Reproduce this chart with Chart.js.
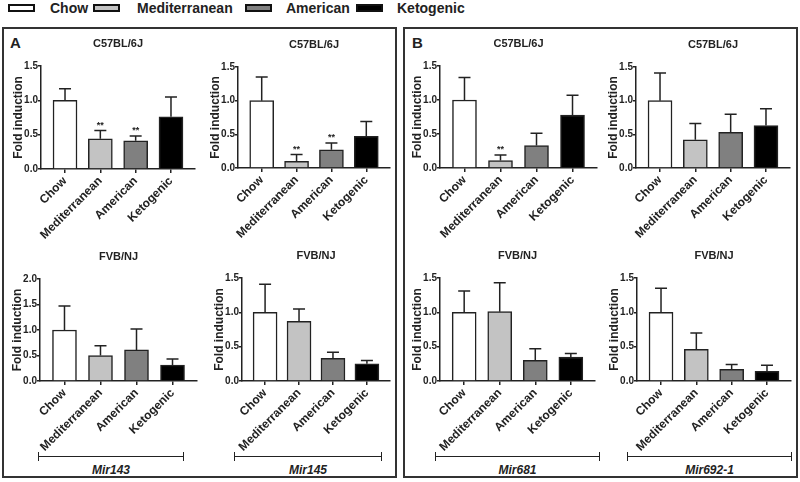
<!DOCTYPE html>
<html lang="en">

<head>
    <meta charset="UTF-8">
    <title>Fold induction by diet</title>
    <style>
        body {
            margin: 0;
            background: #ffffff;
            font-family: 'Liberation Sans', Arial, sans-serif;
            color: #222;
        }

        #page {
            position: relative;
            width: 800px;
            height: 482px;
            overflow: hidden;
        }

        .panel {
            position: absolute;
            top: 27px;
            height: 451px;
            border: 2px solid #333;
            box-sizing: border-box;
        }

        .letter {
            position: absolute;
            top: 34px;
            font-size: 15px;
            font-weight: bold;
        }

        .swatch {
            position: absolute;
            top: 4px;
            width: 27px;
            height: 8px;
            border: 2px solid #111;
            box-sizing: border-box;
        }

        .legend-text {
            position: absolute;
            top: 0px;
            font-size: 14px;
            font-weight: bold;
            line-height: 17px;
        }

        canvas {
            position: absolute;
        }

        .bracket {
            position: absolute;
            height: 9px;
            border-left: 1.5px solid #222;
            border-right: 1.5px solid #222;
            box-sizing: border-box;
        }

        .bracket::after {
            content: '';
            position: absolute;
            left: 0;
            right: 0;
            top: 3.5px;
            border-top: 1.5px solid #222;
        }

        .gene {
            position: absolute;
            font-size: 12px;
            font-weight: bold;
            font-style: italic;
            text-align: center;
        }
    </style>
    <script src="https://cdn.jsdelivr.net/npm/chart.js"></script>
</head>

<body>
    <div id="page">
        <div class="panel" style="left:2px; width:395px;"></div>
        <div class="panel" style="left:403px; width:395px;"></div>
        <div class="letter" style="left:10px;">A</div>
        <div class="letter" style="left:412px;">B</div>
    </div>

    <script>
        // Diet groups and bar fills
        const diets = ['Chow', 'Mediterranean', 'American', 'Ketogenic'];
        const dietColors = ['#ffffff', '#c3c3c3', '#808080', '#000000'];

        // Fold induction (mean) and upper error (SEM)
        const mir143C57 = [1.00, 0.44, 0.41, 0.76];
        const mir143C57Err = [0.17, 0.12, 0.07, 0.29];
        const mir143C57Sig = ['', '**', '**', ''];

        const mir145C57 = [1.00, 0.10, 0.27, 0.47];
        const mir145C57Err = [0.35, 0.10, 0.10, 0.22];
        const mir145C57Sig = ['', '**', '**', ''];

        const mir143FVB = [1.00, 0.50, 0.61, 0.31];
        const mir143FVBErr = [0.47, 0.19, 0.41, 0.12];

        const mir145FVB = [1.00, 0.87, 0.33, 0.25];
        const mir145FVBErr = [0.41, 0.18, 0.09, 0.05];

        const mir681C57 = [1.00, 0.11, 0.33, 0.78];
        const mir681C57Err = [0.33, 0.08, 0.18, 0.29];
        const mir681C57Sig = ['', '**', '', ''];

        const mir692C57 = [1.00, 0.42, 0.53, 0.63];
        const mir692C57Err = [0.41, 0.24, 0.27, 0.25];

        const mir681FVB = [1.00, 1.01, 0.30, 0.35];
        const mir681FVBErr = [0.31, 0.42, 0.17, 0.05];

        const mir692FVB = [1.00, 0.46, 0.17, 0.14];
        const mir692FVBErr = [0.35, 0.24, 0.07, 0.09];

        const yTicks15 = [0, 0.5, 1.0, 1.5];
        const yTicks20 = [0, 0.5, 1.0, 1.5, 2.0];

        const strains = ['C57BL/6J', 'FVB/NJ'];
        const genes = ['Mir143', 'Mir145', 'Mir681', 'Mir692-1'];

        // plot rectangle of every small chart (page pixels)
        const panels = [
            { title: strains[0], values: mir143C57, errors: mir143C57Err, sig: mir143C57Sig, ticks: yTicks15, area: [41, 66, 195, 169] },
            { title: strains[0], values: mir145C57, errors: mir145C57Err, sig: mir145C57Sig, ticks: yTicks15, area: [238, 67, 390, 168] },
            { title: strains[0], values: mir681C57, errors: mir681C57Err, sig: mir681C57Sig, ticks: yTicks15, area: [440, 66, 597, 168] },
            { title: strains[0], values: mir692C57, errors: mir692C57Err, sig: [], ticks: yTicks15, area: [636, 67, 790, 168] },
            { title: strains[1], values: mir143FVB, errors: mir143FVBErr, sig: [], ticks: yTicks20, area: [40, 279, 197, 381] },
            { title: strains[1], values: mir145FVB, errors: mir145FVBErr, sig: [], ticks: yTicks15, area: [242, 278, 390, 381] },
            { title: strains[1], values: mir681FVB, errors: mir681FVBErr, sig: [], ticks: yTicks15, area: [440, 278, 595, 381] },
            { title: strains[1], values: mir692FVB, errors: mir692FVBErr, sig: [], ticks: yTicks15, area: [637, 278, 791, 381] }
        ];

        // gene brackets under the bottom row: [left, right]
        const brackets = [[38, 184], [234, 382], [435, 600], [627, 792]];

        const page = document.getElementById('page');

        // legend
        const swatchX = [8, 93, 245, 356];
        const textX = [50, 137, 286, 397];
        diets.forEach((d, i) => {
            const sw = document.createElement('div');
            sw.className = 'swatch';
            sw.style.left = swatchX[i] + 'px';
            sw.style.background = dietColors[i];
            page.appendChild(sw);
            const tx = document.createElement('div');
            tx.className = 'legend-text';
            tx.style.left = textX[i] + 'px';
            tx.textContent = d;
            page.appendChild(tx);
        });

        // brackets with gene names
        brackets.forEach((b, i) => {
            const br = document.createElement('div');
            br.className = 'bracket';
            br.style.left = b[0] + 'px';
            br.style.top = '452px';
            br.style.width = (b[1] - b[0]) + 'px';
            page.appendChild(br);
            const g = document.createElement('div');
            g.className = 'gene';
            g.style.left = b[0] + 'px';
            g.style.width = (b[1] - b[0]) + 'px';
            g.style.top = '463px';
            g.textContent = genes[i];
            page.appendChild(g);
        });

        Chart.defaults.font.family = "'Liberation Sans', Arial, sans-serif";
        Chart.defaults.font.weight = 'bold';
        Chart.defaults.color = '#222';

        // error bars (upper only) plus significance stars
        const errorBars = {
            id: 'errorBars',
            afterDatasetsDraw(chart, args, opts) {
                const ctx = chart.ctx;
                const y = chart.scales.y;
                const meta = chart.getDatasetMeta(0);
                const data = chart.data.datasets[0].data;
                ctx.save();
                ctx.strokeStyle = '#222';
                ctx.lineWidth = 1.5;
                ctx.fillStyle = '#222';
                ctx.font = 'bold 9px "Liberation Sans", Arial, sans-serif';
                ctx.textAlign = 'center';
                ctx.textBaseline = 'bottom';
                meta.data.forEach((bar, i) => {
                    const v = data[i].y;
                    const top = y.getPixelForValue(v + opts.errors[i]);
                    const base = y.getPixelForValue(v);
                    ctx.beginPath();
                    ctx.moveTo(bar.x, base);
                    ctx.lineTo(bar.x, top);
                    ctx.moveTo(bar.x - 6, top);
                    ctx.lineTo(bar.x + 6, top);
                    ctx.stroke();
                    if (opts.sig[i]) {
                        ctx.fillText(opts.sig[i], bar.x, top - 1);
                    }
                });
                ctx.restore();
            }
        };

        // strain title centred over the plot area
        const plotTitle = {
            id: 'plotTitle',
            afterDraw(chart, args, opts) {
                const ctx = chart.ctx;
                const a = chart.chartArea;
                ctx.save();
                ctx.font = 'bold 11px "Liberation Sans", Arial, sans-serif';
                ctx.fillStyle = '#222';
                ctx.textAlign = 'center';
                ctx.textBaseline = 'middle';
                ctx.fillText(opts.text, (a.left + a.right) / 2, a.top - 22);
                ctx.restore();
            }
        };

        panels.forEach((p, n) => {
            const [l, t, r, b] = p.area;
            const cx = l - 36, cy = t - 40;
            const cw = r + 6 - cx, ch = b + 80 - cy;
            const canvas = document.createElement('canvas');
            canvas.width = cw;
            canvas.height = ch;
            canvas.style.left = cx + 'px';
            canvas.style.top = cy + 'px';
            page.appendChild(canvas);

            new Chart(canvas.getContext('2d'), {
                type: 'bar',
                data: {
                    datasets: [{
                        data: p.values.map((v, i) => ({ x: i, y: v })),
                        backgroundColor: dietColors,
                        borderColor: '#222',
                        borderWidth: 1.5,
                        barThickness: 24
                    }]
                },
                options: {
                    responsive: false,
                    animation: false,
                    layout: { padding: { left: 4, top: 40, right: 6, bottom: 0 } },
                    plugins: {
                        legend: { display: false },
                        tooltip: { enabled: false },
                        errorBars: { errors: p.errors, sig: p.sig },
                        plotTitle: { text: p.title }
                    },
                    scales: {
                        x: {
                            type: 'linear',
                            min: -0.68,
                            max: 3.68,
                            offset: false,
                            afterBuildTicks: s => { s.ticks = diets.map((d, i) => ({ value: i })); },
                            afterFit: s => { s.height = 80; },
                            grid: { display: true, drawOnChartArea: false, offset: false, tickLength: 4, color: '#222', lineWidth: 1.5 },
                            border: { color: '#222', width: 1.5 },
                            ticks: {
                                autoSkip: false,
                                minRotation: 45,
                                maxRotation: 45,
                                padding: 1,
                                font: { size: 12, weight: 'bold' },
                                callback: v => diets[v]
                            }
                        },
                        y: {
                            min: 0,
                            max: p.ticks[p.ticks.length - 1],
                            afterBuildTicks: s => { s.ticks = p.ticks.map(v => ({ value: v })); },
                            afterFit: s => { s.width = 32; },
                            grid: { display: true, drawOnChartArea: false, tickLength: 3, color: '#222', lineWidth: 1.5 },
                            border: { color: '#222', width: 1.5 },
                            ticks: {
                                padding: 0,
                                font: { size: 10, weight: 'bold' },
                                callback: v => v.toFixed(1)
                            },
                            title: {
                                display: true,
                                text: 'Fold induction',
                                font: { size: 12, weight: 'bold' },
                                padding: { top: 2, bottom: 0 }
                            }
                        }
                    }
                },
                plugins: [errorBars, plotTitle]
            });
        });
    </script>
</body>

</html>
